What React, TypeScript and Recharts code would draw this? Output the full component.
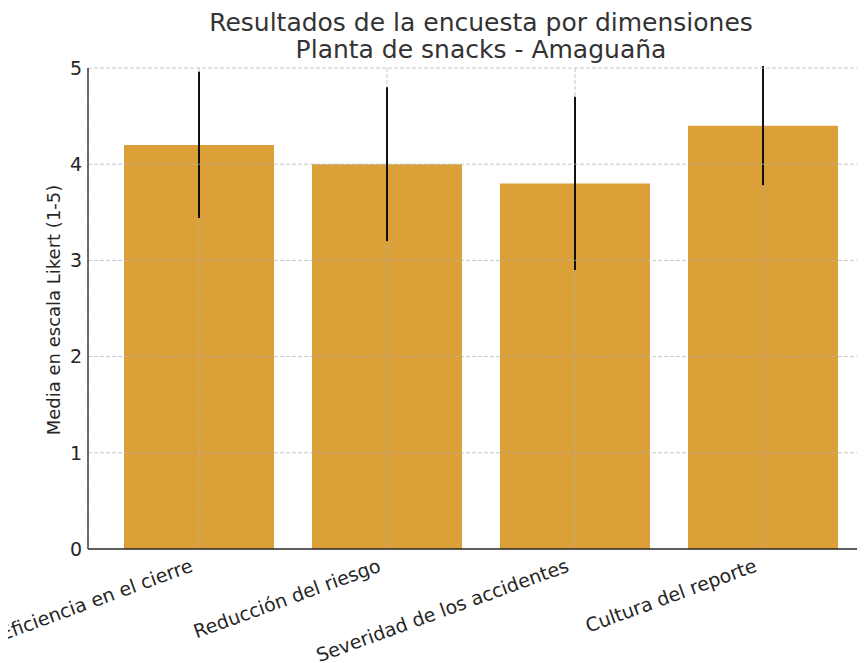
import { Bar, BarChart, CartesianGrid, ErrorBar, ReferenceLine, XAxis, YAxis } from "recharts";

const categories = [
  "Eficiencia en el cierre",
  "Reducción del riesgo",
  "Severidad de los accidentes",
  "Cultura del reporte",
];
const means = [4.2, 4.0, 3.8, 4.4];
const errors = [0.76, 0.8, 0.9, 0.62];
const yTicks = [0, 1, 2, 3, 4, 5];
const titleLines = ["Resultados de la encuesta por dimensiones", "Planta de snacks - Amaguaña"];
const yLabel = "Media en escala Likert (1-5)";

const data = categories.map((name, i) => ({ name, mean: means[i], err: errors[i] }));

const FONT = "'DejaVu Sans', sans-serif";
const GRID = { stroke: "#b0b0b0", strokeOpacity: 0.7, strokeDasharray: "4 2" };

function CategoryTick({ x, y, payload }: any) {
  return (
    <text
      x={x - 5}
      y={y + 14}
      textAnchor="end"
      transform={`rotate(-20, ${x - 5}, ${y + 14})`}
      fontSize={19}
      fill="#262626"
      fontFamily={FONT}
    >
      {payload.value}
    </text>
  );
}

export default function App() {
  return (
    <div style={{ width: 857, height: 655, overflow: "hidden", position: "relative", fontFamily: FONT }}>
      <BarChart
        width={870}
        height={655}
        data={data}
        margin={{ top: 60, right: 4, bottom: 34, left: 32 }}
        barCategoryGap={0}
      >
        <CartesianGrid {...GRID} horizontal={false} />
        <XAxis
          dataKey="name"
          padding={{ left: 17, right: 17 }}
          height={80}
          interval={0}
          tickLine={false}
          axisLine={{ stroke: "#262626", strokeWidth: 1.3 }}
          tick={<CategoryTick />}
        />
        <YAxis
          domain={[0, 5]}
          ticks={yTicks}
          width={48}
          tickLine={false}
          tickSize={4}
          tickMargin={2}
          axisLine={{ stroke: "#262626", strokeWidth: 1.3 }}
          tick={{ fontSize: 19, fill: "#262626", fontFamily: FONT }}
          allowDataOverflow
          label={{
            content: () => (
              <text
                x={52}
                y={302}
                textAnchor="middle"
                transform="rotate(-90, 52, 302)"
                fontSize={18}
                fill="#262626"
                fontFamily={FONT}
              >
                {yLabel}
              </text>
            ),
          }}
        />
        <Bar dataKey="mean" fill="#DBA038" barSize={150} isAnimationActive={false}>
          <ErrorBar dataKey="err" width={0} stroke="#111" strokeWidth={2} direction="y" />
        </Bar>
        {yTicks.slice(1).map((t) => (
          <ReferenceLine key={`y${t}`} y={t} {...GRID} />
        ))}
        {data.map((d) => (
          <ReferenceLine
            key={d.name}
            segment={[
              { x: d.name, y: 0 },
              { x: d.name, y: d.mean - d.err },
            ]}
            {...GRID}
          />
        ))}
      </BarChart>
      <svg
        width={870}
        height={60}
        style={{ position: "absolute", left: 0, top: 0, pointerEvents: "none" }}
      >
        {titleLines.map((line, i) => (
          <text
            key={line}
            x={473}
            y={23 + i * 27}
            textAnchor="middle"
            fontSize={25}
            fill="#333333"
            fontFamily={FONT}
          >
            {line}
          </text>
        ))}
      </svg>
    </div>
  );
}
